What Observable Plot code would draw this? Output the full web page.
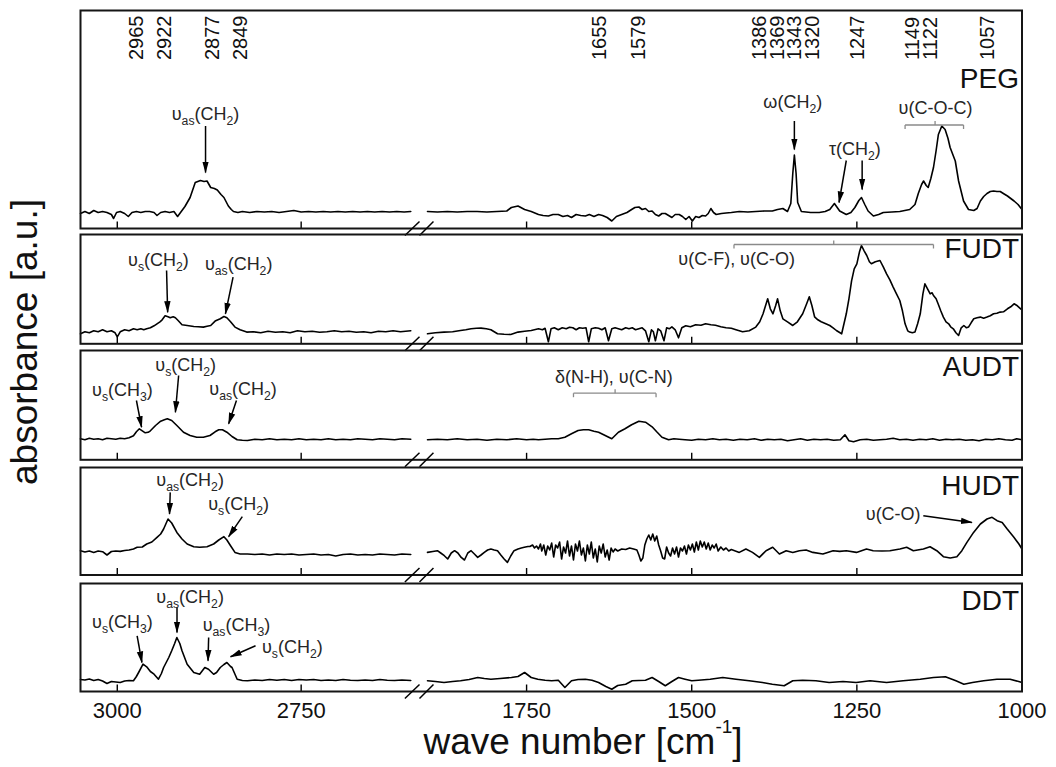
<!DOCTYPE html>
<html>
<head>
<meta charset="utf-8">
<script src="https://cdn.jsdelivr.net/npm/d3@7"></script>
<script src="https://cdn.jsdelivr.net/npm/@observablehq/plot@0.6"></script>
<style>
  html, body { margin: 0; padding: 0; background: #fff; }
  body { font-family: "Liberation Sans", Arial, sans-serif; color: #111; }
  #wrap { position: relative; width: 1056px; height: 767px; overflow: hidden; }
  .panel { position: absolute; left: 0; }
  .panel svg { overflow: visible; }
  #ylab { position: absolute; left: 24px; top: 342px; transform: translate(-50%, -50%) rotate(-90deg);
          font-size: 37px; line-height: 37px; white-space: nowrap; }
  #xlab { position: absolute; left: 583px; top: 728px; transform: translateX(-50%);
          font-size: 37px; line-height: 28px; white-space: nowrap; }
  #xlab sup { font-size: 19px; vertical-align: baseline; position: relative; top: -21px; }
</style>
</head>
<body>
<div id="wrap">
  <div id="ylab">absorbance [a.u.]</div>
  <div id="xlab">wave number [cm<sup>-1</sup>]</div>
</div>
<script>
// ---------------- data ----------------
const panelNames = ["PEG", "FUDT", "AUDT", "HUDT", "DDT"];
const xTicks = [3000, 2750, 1750, 1500, 1250, 1000];
const peakLabels  = ["2965","2922","2877","2849","1655","1579","1386","1369","1343","1320","1247","1149","1122","1057"];
const peakLabelX  = [2974, 2936, 2871, 2833, 1640, 1581, 1398, 1370, 1344, 1317, 1249, 1165, 1139, 1052];

// spectra: [wave number, absorbance a.u.]
const pegSpec = [[3050,.15],[3044,.17],[3038,.15],[3032,.18],[3026,.16],[3020,.17],[3014,.16],[3008,.14],[3005,.10],[3001,.16],[2996,.17],[2990,.15],[2985,.12],[2980,.16],[2974,.17],[2968,.16],[2962,.17],[2956,.17],[2950,.16],[2946,.13],[2941,.16],[2935,.17],[2929,.16],[2923,.17],[2918,.12],[2914,.16],[2908,.22],[2901,.31],[2894,.46],[2887,.48],[2882,.47],[2878,.475],[2873,.41],[2868,.40],[2864,.385],[2859,.34],[2855,.31],[2849,.225],[2845,.19],[2842,.17],[2836,.16],[2830,.17],[2820,.16],[2810,.17],[2800,.165],[2790,.17],[2780,.16],[2770,.17],[2760,.18],[2750,.165],[2740,.17],[2730,.165],[2720,.17],[2710,.165],[2700,.17],[2690,.165],[2680,.17],[2670,.165],[2660,.17],[2650,.165],[2640,.17],[2630,.165],[2620,.17],[2610,.165],[2601,.17],
 [1900,.17],[1885,.165],[1870,.17],[1855,.165],[1840,.17],[1825,.17],[1810,.165],[1795,.17],[1780,.175],[1773,.21],[1763,.225],[1753,.19],[1743,.17],[1732,.14],[1725,.13],[1717,.125],[1710,.14],[1702,.14],[1695,.12],[1688,.13],[1682,.11],[1675,.14],[1668,.13],[1661,.125],[1655,.14],[1648,.12],[1641,.14],[1635,.13],[1628,.11],[1621,.075],[1614,.12],[1606,.14],[1598,.16],[1591,.19],[1586,.21],[1580,.215],[1575,.19],[1570,.20],[1565,.17],[1560,.175],[1555,.14],[1550,.125],[1545,.15],[1540,.15],[1535,.13],[1530,.11],[1525,.14],[1519,.14],[1514,.12],[1509,.09],[1504,.12],[1499,.075],[1494,.12],[1489,.11],[1484,.13],[1479,.125],[1475,.15],[1471,.20],[1467,.16],[1463,.14],[1455,.15],[1448,.155],[1440,.16],[1428,.17],[1415,.165],[1403,.17],[1390,.175],[1378,.175],[1370,.19],[1362,.20],[1355,.17],[1350,.25],[1347,.55],[1344.6,.735],[1342,.55],[1339.6,.26],[1334,.17],[1320,.16],[1307,.16],[1298,.17],[1291,.19],[1284,.25],[1276,.175],[1266,.14],[1259,.16],[1253,.21],[1247,.28],[1243,.31],[1238,.24],[1233,.175],[1225,.125],[1217,.14],[1210,.16],[1197,.165],[1185,.17],[1170,.19],[1162,.24],[1157,.35],[1152,.44],[1149,.475],[1145,.43],[1142,.41],[1138,.50],[1134,.61],[1130,.78],[1126.6,.94],[1121.4,1.025],[1116.4,.99],[1112,.90],[1108.8,.81],[1101,.675],[1096,.475],[1088.5,.275],[1081,.19],[1073,.18],[1068,.20],[1063,.275],[1058,.32],[1053,.35],[1048,.37],[1043,.375],[1038,.37],[1033,.37],[1027,.345],[1022,.325],[1017,.30],[1012,.275],[1006,.24],[1000,.19]];

const fudtSpec = [[3050,.10],[3044,.12],[3038,.11],[3032,.13],[3026,.12],[3020,.14],[3014,.12],[3008,.13],[3003,.11],[3000,.07],[2996,.12],[2990,.14],[2984,.13],[2978,.15],[2973,.14],[2968,.15],[2964,.14],[2960,.15],[2955,.16],[2950,.18],[2946,.20],[2942,.22],[2939,.24],[2935,.28],[2931,.27],[2928,.26],[2924,.27],[2921,.26],[2917,.23],[2912,.19],[2905,.183],[2896,.173],[2890,.17],[2883,.167],[2878,.175],[2873,.183],[2867,.227],[2860,.25],[2855,.273],[2851,.26],[2846,.22],[2840,.167],[2833,.14],[2824,.117],[2815,.12],[2805,.11],[2795,.125],[2785,.115],[2775,.12],[2765,.11],[2755,.13],[2745,.12],[2735,.125],[2725,.115],[2715,.12],[2705,.13],[2695,.12],[2685,.125],[2675,.115],[2665,.12],[2655,.11],[2645,.125],[2635,.12],[2625,.13],[2615,.12],[2601,.13],
 [1900,.10],[1888,.11],[1875,.117],[1862,.12],[1850,.133],[1842,.14],[1834,.15],[1826,.155],[1819,.157],[1811,.15],[1804,.14],[1794,.10],[1784,.095],[1774,.093],[1763,.117],[1753,.125],[1743,.133],[1732,.15],[1726,.14],[1722,.155],[1717,.02],[1713,.15],[1708,.16],[1702,.14],[1696,.16],[1690,.15],[1685,.165],[1680,.16],[1675,.14],[1670,.16],[1665,.155],[1660,.16],[1656,.02],[1652,.15],[1646,.16],[1641,.155],[1636,.14],[1631,.16],[1626,.03],[1621,.15],[1616,.16],[1611,.15],[1606,.14],[1600,.16],[1595,.15],[1590,.16],[1585,.14],[1580,.15],[1575,.16],[1570,.13],[1565,.02],[1561,.14],[1558,.12],[1555,.03],[1551,.15],[1547,.13],[1542,.03],[1538,.16],[1534,.15],[1530,.17],[1525,.14],[1520,.06],[1515,.16],[1509,.18],[1502,.17],[1494,.19],[1486,.185],[1479,.20],[1471,.19],[1464,.185],[1456,.17],[1448,.16],[1440,.155],[1433,.14],[1423,.12],[1413,.13],[1403,.167],[1397,.22],[1392,.30],[1385,.45],[1381,.35],[1377,.30],[1373,.38],[1370,.45],[1366,.33],[1362,.25],[1355,.22],[1347,.183],[1340,.22],[1332,.30],[1326,.40],[1322,.47],[1318,.38],[1314,.27],[1309,.24],[1304,.22],[1297,.20],[1291,.183],[1286,.16],[1281,.133],[1273,.10],[1266,.30],[1262,.45],[1258,.63],[1254,.75],[1250,.80],[1246,.92],[1243,.983],[1239,.93],[1235,.883],[1231,.82],[1228,.80],[1222,.82],[1215,.833],[1210,.77],[1205,.70],[1200,.64],[1195,.567],[1190,.50],[1185,.433],[1181,.33],[1177,.20],[1173,.13],[1170,.117],[1166,.11],[1162,.117],[1158,.20],[1154,.30],[1150,.50],[1147,.60],[1143,.55],[1139,.50],[1136,.51],[1134,.483],[1130,.45],[1127,.40],[1123,.33],[1119,.267],[1115,.22],[1111,.20],[1108,.17],[1104,.15],[1100,.11],[1096,.083],[1092,.16],[1088,.183],[1084,.16],[1081,.167],[1077,.21],[1073,.25],[1068,.26],[1063,.267],[1058,.255],[1053,.267],[1048,.28],[1043,.30],[1038,.305],[1033,.317],[1028,.32],[1022,.35],[1017,.37],[1012,.40],[1007,.38],[1002,.35],[1000,.34]];

const audtSpec = [[3050,.21],[3044,.20],[3038,.215],[3032,.205],[3026,.21],[3020,.2],[3014,.215],[3008,.21],[3002,.205],[2996,.215],[2990,.21],[2984,.22],[2978,.24],[2974,.28],[2970,.31],[2966,.29],[2962,.27],[2958,.275],[2955,.29],[2948,.343],[2941,.386],[2936,.40],[2932,.41],[2926,.393],[2919,.343],[2910,.276],[2901,.243],[2892,.226],[2883,.226],[2874,.243],[2867,.28],[2862,.30],[2857,.30],[2851,.276],[2844,.233],[2837,.2],[2830,.195],[2823,.193],[2813,.205],[2803,.2],[2793,.21],[2783,.2],[2773,.205],[2763,.2],[2753,.21],[2743,.2],[2733,.205],[2723,.2],[2713,.21],[2703,.2],[2693,.205],[2683,.2],[2673,.21],[2663,.205],[2653,.2],[2643,.21],[2633,.205],[2623,.2],[2613,.21],[2601,.205],
 [1900,.2],[1885,.205],[1870,.2],[1855,.21],[1840,.2],[1825,.205],[1810,.195],[1795,.205],[1780,.2],[1765,.21],[1750,.2],[1740,.205],[1732,.2],[1722,.205],[1712,.21],[1702,.21],[1692,.226],[1682,.26],[1672,.293],[1664,.30],[1656,.30],[1648,.286],[1641,.276],[1631,.243],[1621,.21],[1611,.276],[1601,.31],[1591,.35],[1580,.386],[1570,.376],[1560,.33],[1553,.28],[1545,.226],[1535,.2],[1527,.21],[1519,.205],[1510,.2],[1500,.195],[1490,.205],[1479,.2],[1468,.21],[1458,.2],[1448,.205],[1437,.195],[1427,.205],[1416,.2],[1405,.21],[1395,.195],[1385,.205],[1375,.2],[1365,.205],[1355,.19],[1345,.2],[1335,.21],[1325,.195],[1315,.205],[1305,.2],[1295,.205],[1285,.195],[1275,.2],[1268,.25],[1262,.19],[1255,.18],[1245,.2],[1235,.205],[1225,.195],[1215,.2],[1205,.205],[1195,.215],[1185,.2],[1175,.205],[1165,.195],[1155,.205],[1145,.2],[1135,.21],[1125,.195],[1115,.205],[1105,.2],[1095,.205],[1085,.195],[1075,.2],[1065,.19],[1055,.205],[1045,.2],[1035,.21],[1025,.2],[1015,.195],[1008,.21],[1000,.2]];

const hudtSpec = [[3050,.243],[3044,.23],[3038,.24],[3032,.226],[3026,.24],[3020,.233],[3014,.20],[3008,.235],[3002,.24],[2996,.236],[2990,.245],[2984,.25],[2978,.26],[2973,.277],[2966,.28],[2960,.31],[2953,.33],[2946,.377],[2941,.41],[2937,.46],[2934,.51],[2931,.56],[2926,.52],[2919,.426],[2912,.36],[2905,.31],[2896,.283],[2888,.277],[2878,.283],[2869,.31],[2862,.35],[2855,.383],[2851,.35],[2846,.293],[2840,.226],[2833,.21],[2823,.21],[2813,.205],[2803,.21],[2793,.2],[2783,.21],[2773,.205],[2763,.21],[2753,.2],[2743,.205],[2733,.21],[2723,.2],[2713,.205],[2703,.19],[2693,.205],[2683,.21],[2673,.2],[2663,.205],[2653,.2],[2643,.21],[2633,.205],[2623,.2],[2613,.21],[2601,.205],
 [1900,.226],[1892,.235],[1885,.243],[1880,.22],[1874.5,.193],[1869.4,.16],[1864,.22],[1859,.243],[1854,.22],[1849,.176],[1844,.15],[1839,.22],[1834,.243],[1829,.21],[1824,.176],[1819,.2],[1814,.226],[1809,.25],[1804,.26],[1799,.25],[1794,.243],[1789,.2],[1784,.16],[1779,.126],[1774,.19],[1769,.243],[1763,.26],[1758,.27],[1753.5,.277],[1748,.285],
 [1745,.285],[1741,.30],[1738,.27],[1735,.29],[1732,.26],[1729,.31],[1727,.24],[1724,.30],[1721,.20],[1718,.29],[1715,.25],[1712,.32],[1709,.18],[1706,.30],[1703,.27],[1700,.33],[1697,.16],[1694,.28],[1691,.22],[1688,.34],[1685,.19],[1682,.29],[1679,.15],[1676,.31],[1673,.24],[1670,.34],[1667,.20],[1664,.27],[1661,.14],[1658,.30],[1655,.21],[1652,.33],[1649,.17],[1646,.26],[1643,.13],[1640,.29],[1637,.22],[1634,.31],[1631,.18],[1628,.25],[1625,.15],[1622,.27],[1619,.23],[1616,.26],[1612,.24],[1606,.26],[1600,.255],[1594,.27],[1588,.26],[1583,.25],[1580,.20],[1577,.14],[1574,.17],[1571,.30],[1568,.36],[1565,.40],[1562,.35],[1559,.41],[1556,.34],[1553,.39],[1550,.30],[1547,.24],[1544,.17],[1541,.16],[1538,.28],[1535,.22],[1532,.19],[1529,.27],[1526,.21],[1523,.28],[1520,.18],[1517,.27],[1514,.24],[1511,.29],[1508,.21],[1505,.30],[1502,.25],[1499,.31],[1496,.23],[1493,.33],[1490,.25],[1487,.34],[1484,.28],[1481,.33],[1478,.26],[1475,.32],[1472,.25],[1469,.30],[1466,.27],[1463,.31],[1460,.24],[1456,.28],[1452,.25],[1448,.27],[1444,.24],[1440,.255],
 [1428,.226],[1418,.26],[1408,.226],[1397.6,.176],[1387.5,.243],[1377.4,.277],[1367.3,.21],[1357,.243],[1347,.226],[1337,.243],[1326.8,.25],[1316.6,.226],[1301.4,.21],[1286,.243],[1276,.236],[1266,.243],[1250.6,.226],[1235.4,.26],[1225.3,.243],[1212,.24],[1200,.243],[1184.8,.26],[1174.6,.277],[1164.5,.243],[1149.3,.26],[1139.2,.283],[1129,.243],[1119,.183],[1108.7,.17],[1098.6,.183],[1091,.243],[1083.4,.326],[1073.3,.426],[1063,.51],[1053,.56],[1045.3,.577],[1037.7,.543],[1030,.526],[1022.4,.46],[1012.3,.377],[1004.7,.31],[1000,.26]];

const ddtSpec = [[3050,.12],[3044,.115],[3038,.125],[3032,.11],[3026,.12],[3020,.105],[3014,.08],[3008,.10],[3002,.095],[2996,.09],[2990,.105],[2984,.11],[2978,.107],[2974,.15],[2971,.19],[2965,.273],[2960,.247],[2955,.20],[2950,.173],[2944,.123],[2940,.18],[2937,.24],[2930,.34],[2926,.407],[2922,.48],[2919,.54],[2915,.48],[2912,.407],[2905,.273],[2896,.19],[2888,.173],[2881,.24],[2876,.223],[2869,.173],[2865,.19],[2860,.24],[2855,.27],[2851,.29],[2846,.25],[2844,.24],[2837,.123],[2830,.11],[2823,.107],[2813,.115],[2803,.11],[2793,.12],[2783,.113],[2773,.12],[2763,.11],[2753,.12],[2743,.115],[2733,.12],[2723,.11],[2713,.115],[2703,.11],[2693,.12],[2683,.113],[2673,.11],[2663,.115],[2653,.11],[2643,.12],[2633,.113],[2623,.11],[2613,.115],[2601,.11],
 [1900,.107],[1888,.10],[1875,.09],[1862,.10],[1850,.107],[1837,.12],[1824,.14],[1814,.13],[1804,.123],[1790,.13],[1773,.14],[1763,.15],[1753,.19],[1743,.14],[1733,.123],[1722,.113],[1712,.107],[1702,.113],[1692,.04],[1682,.107],[1672,.12],[1661,.123],[1651,.113],[1641,.09],[1630,.05],[1621,.023],[1612,.06],[1600,.073],[1590,.107],[1580,.11],[1570,.113],[1560,.14],[1550,.10],[1540,.058],[1530,.10],[1520,.14],[1510,.123],[1500,.107],[1490,.113],[1472,.123],[1453,.14],[1433,.123],[1413,.107],[1393,.09],[1378,.073],[1360,.057],[1347,.107],[1332,.113],[1312,.107],[1292,.09],[1271,.10],[1251,.09],[1230,.107],[1205,.09],[1180,.107],[1154,.123],[1134,.14],[1116,.147],[1100,.107],[1088,.073],[1075,.09],[1058,.107],[1038,.123],[1018,.123],[1005,.10],[1000,.09]];

// annotations [x (cm-1), y (a.u.), label]
const pegNotes  = [[2880,1.145,"υ_{as}(CH_{2})"],[1347,1.26,"ω(CH_{2})"],[1253,0.79,"τ(CH_{2})"],[1131,1.20,"υ(C-O-C)"]];
const fudtNotes = [[2944,0.833,"υ_{s}(CH_{2})"],[2835,0.80,"υ_{as}(CH_{2})"],[1432,0.85,"υ(C-F), υ(C-O)"]];
const audtNotes = [[2993,0.693,"υ_{s}(CH_{3})"],[2907,0.943,"υ_{s}(CH_{2})"],[2829,0.703,"υ_{as}(CH_{2})"],[1618,0.826,"δ(N-H), υ(C-N)"]];
const hudtNotes = [[2901,0.943,"υ_{as}(CH_{2})"],[2835,0.71,"υ_{s}(CH_{2})"],[1195,0.61,"υ(C-O)"]];
const ddtNotes  = [[2993,0.69,"υ_{s}(CH_{3})"],[2901,0.94,"υ_{as}(CH_{2})"],[2838,0.665,"υ_{as}(CH_{3})"],[2762,0.44,"υ_{s}(CH_{2})"]];

// arrows [x1, y1, x2 (tip), y2 (tip)]
const pegArrows  = [[2880,1.025,2880,0.56],[1344.6,1.075,1344.6,0.79],[1266,0.68,1277,0.26],[1242,0.68,1242,0.39]];
const fudtArrows = [[2933,0.733,2931.5,0.316],[2842.6,0.666,2853,0.30]];
const audtArrows = [[2974,0.593,2967,0.326],[2916.6,0.843,2921,0.476],[2838,0.593,2848.6,0.36]];
const hudtArrows = [[2928,0.826,2929,0.61],[2830,0.583,2848.6,0.383],[1149.4,0.593,1075.8,0.526]];
const ddtArrows  = [[2973,0.557,2966.5,0.29],[2918.8,0.84,2918.8,0.59],[2875.8,0.54,2876.6,0.307],[2812,0.457,2846,0.347]];

// band brackets [from, to, centre mark, y]
const pegBrackets  = [[1177,1088.5,1131.6,1.035]];
const fudtBrackets = [[1436,1134,1285,0.993]];
const audtBrackets = [[1679,1554,1616,0.666]];

// ---------------- chart ----------------
const X_DOMAIN = [3050, 2600, 1900, 1000];     // broken axis
const X_RANGE  = [80, 411, 427, 1021.5];
const GAP_MID = 2250;

const specs = [pegSpec, fudtSpec, audtSpec, hudtSpec, ddtSpec];
const notes = [pegNotes, fudtNotes, audtNotes, hudtNotes, ddtNotes];
const arrows = [pegArrows, fudtArrows, audtArrows, hudtArrows, ddtArrows];
const brackets = [pegBrackets, fudtBrackets, audtBrackets, [], []];
const layout = [
  {top: 7.5, h: 218, nameY: 1.605},
  {top: 232, h: 109.3, nameY: 1.06},
  {top: 348, h: 109.3, nameY: 1.04},
  {top: 465, h: 107.5, nameY: 0.995},
  {top: 581, h: 108, nameY: 1.01}
];

function bracketSegs(list) {
  const out = [];
  for (const [a, b, c, y] of list) {
    out.push({x1: a, y1: y, x2: b, y2: y});
    out.push({x1: a, y1: y, x2: a, y2: y - 0.04});
    out.push({x1: b, y1: y, x2: b, y2: y - 0.04});
    out.push({x1: c, y1: y, x2: c, y2: y + 0.04});
  }
  return out;
}

function fixSubscripts(svg) {
  d3.select(svg).selectAll("text").each(function() {
    const s = this.textContent;
    if (!s.includes("_{")) return;
    const parts = s.split(/(_\{[^}]*\})/).filter(p => p.length);
    this.textContent = "";
    let prevSub = false;
    for (const p of parts) {
      const sub = p.startsWith("_{");
      const t = d3.select(this).append("tspan").text(sub ? p.slice(2, -1) : p);
      if (sub) t.attr("dy", 5).attr("font-size", "0.68em");
      else if (prevSub) t.attr("dy", -5);
      prevSub = sub;
    }
  });
}

function fixMarkers(svg) {
  d3.select(svg).selectAll("marker").each(function() {
    const m = d3.select(this);
    const col = m.attr("stroke") || "#000";
    m.attr("viewBox", "-11 -5 12 10").attr("markerWidth", 8).attr("markerHeight", 6.667)
     .attr("fill", col).attr("stroke", "none").attr("refX", 0).attr("refY", 0);
    m.selectAll("*").remove();
    m.append("path").attr("d", "M-11,-3.2L1,0L-11,3.2Z");
  });
}

const wrap = document.getElementById("wrap");
layout.forEach((L, i) => {
  const last = i === layout.length - 1;
  const mt = 2, mb = last ? 36 : 5;
  const ymax = L.h / 100;
  const breaks = [
    {x1: 2609, y1: -0.07, x2: GAP_MID, y2: 0.07},
    {x1: GAP_MID, y1: -0.07, x2: 1891, y2: 0.07}
  ];
  const marks = [
    Plot.ruleX(xTicks, {x: d => d, y1: 0, y2: 0.065, stroke: "#000", strokeWidth: 1.4}),
    Plot.line(specs[i], {x: d => d[0], y: d => d[1], z: d => d[0] > GAP_MID, stroke: "#000", strokeWidth: 1.6, strokeLinejoin: "round"}),
    Plot.link(bracketSegs(brackets[i]), {x1: "x1", y1: "y1", x2: "x2", y2: "y2", stroke: "#8a8a8a", strokeWidth: 1.3}),
    Plot.text(notes[i], {x: d => d[0], y: d => d[1], text: d => d[2], fontSize: 18, fill: "#262626"}),
    Plot.link(arrows[i], {x1: d => d[0], y1: d => d[1], x2: d => d[2], y2: d => d[3], stroke: "#000", strokeWidth: 1.5, markerEnd: "arrow"}),
    Plot.text([panelNames[i]], {x: 1000, y: L.nameY, text: d => d, textAnchor: "end", lineAnchor: "top", dx: -3, fontSize: 28, fill: "#111"}),
    Plot.frame({stroke: "#151515", strokeWidth: 2}),
    Plot.link(breaks, {x1: "x1", y1: "y1", x2: "x2", y2: "y2", stroke: "#000", strokeWidth: 1.5})
  ];
  if (i === 0) {
    marks.push(Plot.text(peakLabels, {x: (d, j) => peakLabelX[j], y: 1.685, text: d => d, rotate: -90, textAnchor: "start", fontSize: 20, fill: "#111"}));
  }
  if (last) {
    marks.push(Plot.text(xTicks, {x: d => d, y: -0.19, text: d => String(d), fontSize: 22, fill: "#111"}));
  }
  const svg = Plot.plot({
    width: 1056,
    height: L.h + mt + mb,
    marginTop: mt, marginBottom: mb, marginLeft: 80, marginRight: 34.5,
    x: {type: "linear", domain: X_DOMAIN, range: X_RANGE, axis: null},
    y: {type: "linear", domain: [0, ymax], axis: null},
    style: {fontFamily: "'Liberation Sans', Arial, sans-serif", background: "transparent", overflow: "visible"},
    marks
  });
  fixSubscripts(svg);
  fixMarkers(svg);
  const div = document.createElement("div");
  div.className = "panel";
  div.style.top = L.top + "px";
  div.appendChild(svg);
  wrap.appendChild(div);
});
</script>
</body>
</html>
